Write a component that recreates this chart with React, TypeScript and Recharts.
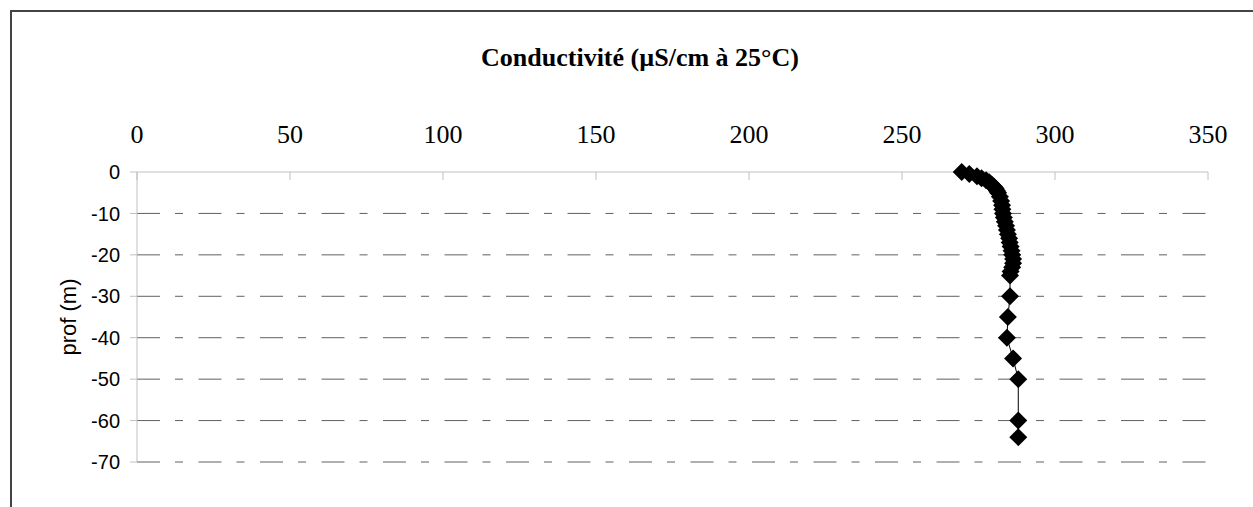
import { LineChart, Line, XAxis, YAxis, ReferenceLine } from 'recharts';

// depth profile (m, negative downwards) and conductivity at 25°C (µS/cm)
const depths = [
  0, -0.5, -1, -1.5, -2, -2.5, -3, -3.5, -4, -4.5, -5, -6, -7, -8, -9, -10, -11, -12, -13,
  -14, -15, -16, -17, -18, -19, -20, -21, -22, -23, -24, -25, -30, -35, -40, -45, -50, -60, -64,
];
const conductivity = [
  269.5, 272, 274.5, 276, 277.5, 278.5, 279.3, 280, 280.6, 281, 281.4, 282, 282.4, 282.7, 282.8,
  283, 283.3, 283.6, 284, 284.3, 284.6, 285, 285.2, 285.5, 285.8, 286, 286.3, 286.3, 286, 285.5,
  285.3, 285.3, 284.6, 284.3, 286.3, 288, 288, 288,
];

const xTicks = [0, 50, 100, 150, 200, 250, 300, 350];
const yTicks = [0, -10, -20, -30, -40, -50, -60, -70];
const gridValues = [-10, -20, -30, -40, -50, -60, -70];

const title = 'Conductivité (µS/cm à 25°C)';
const yLabel = 'prof (m)';

const data = depths.map((prof, i) => ({ cond: conductivity[i], prof }));

const serif = '"Liberation Serif", "Times New Roman", serif';
const sans = '"Liberation Sans", Arial, sans-serif';
const axisGrey = '#c0c0c0';

// ticks of the top axis: mark points down into the plot, label sits above
function TopTick({ x, y, payload }: any) {
  return (
    <g>
      <line x1={x} y1={y} x2={x} y2={y + 8} stroke={axisGrey} strokeWidth={1} />
      <text x={x} y={y - 29} textAnchor="middle" fontFamily={serif} fontSize={26} fill="#000">
        {payload.value}
      </text>
    </g>
  );
}

function Diamond({ cx, cy }: any) {
  if (cx == null || cy == null) return null;
  const r = 9;
  return <path d={`M${cx},${cy - r}L${cx + r},${cy}L${cx},${cy + r}L${cx - r},${cy}Z`} fill="#000" />;
}

export default function App() {
  return (
    <div style={{ position: 'absolute', left: 0, top: 0, width: 1253, height: 507, overflow: 'hidden', background: '#fff' }}>
      <div style={{ position: 'absolute', left: 10, top: 10, width: 1400, height: 700, borderTop: '2px solid #444', borderLeft: '2px solid #444' }} />
      <LineChart width={1253} height={507} data={data} margin={{ top: 132, right: 45, left: 67, bottom: 45 }} style={{ position: 'absolute', left: 0, top: 0 }}>
        <XAxis dataKey="cond" type="number" orientation="top" domain={[0, 350]} ticks={xTicks} height={40}
          tickSize={0} tickMargin={0} tickLine={false} axisLine={{ stroke: axisGrey }} tick={<TopTick />} interval={0} />
        <YAxis dataKey="prof" type="number" domain={[-70, 0]} ticks={yTicks} width={70} tickSize={7} tickMargin={10} interval={0}
          tick={{ fontSize: 20, fill: '#000', fontFamily: sans }} tickLine={{ stroke: axisGrey }} axisLine={{ stroke: axisGrey }} />
        {gridValues.map((v) => (
          <ReferenceLine key={v} y={v} stroke="#606060" strokeWidth={1} strokeDasharray="23 15 8 15.5" />
        ))}
        <Line dataKey="prof" type="linear" stroke="#000" strokeWidth={1} isAnimationActive={false}
          dot={(p: any) => <Diamond key={p.index} cx={p.cx} cy={p.cy} />} activeDot={false} />
      </LineChart>
      <svg width={1253} height={507} style={{ position: 'absolute', left: 0, top: 0, pointerEvents: 'none' }}>
        <text x={640} y={66} textAnchor="middle" fontFamily={serif} fontWeight="bold" fontSize={26} fill="#000">
          {title}
        </text>
        <text x={68} y={317} transform="rotate(-90 68 317)" textAnchor="middle" dominantBaseline="central" fontFamily={sans} fontSize={22} fill="#000">
          {yLabel}
        </text>
      </svg>
    </div>
  );
}
